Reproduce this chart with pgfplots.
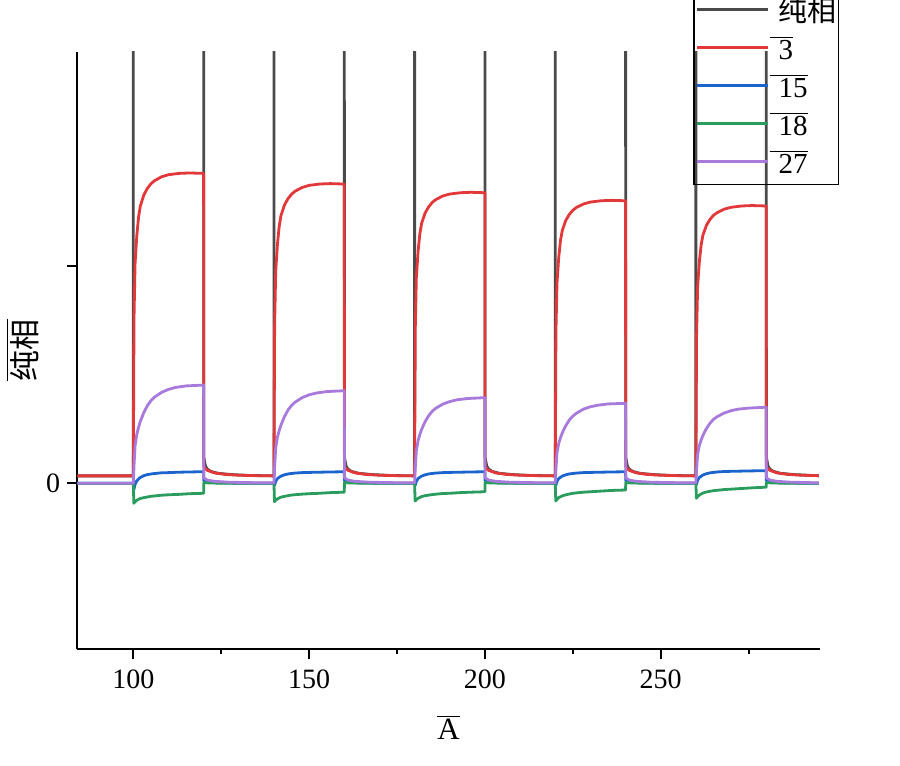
\documentclass[border=0pt]{standalone}
\usepackage{fontspec}
\setmainfont{Liberation Serif}
\newfontfamily\cjk{Noto Sans CJK SC}
\usepackage{pgfplots}
\pgfplotsset{compat=1.18}
\definecolor{cblack}{RGB}{74,74,74}
\definecolor{cred}{RGB}{226,56,58}
\definecolor{cblue}{RGB}{28,100,205}
\definecolor{cgreen}{RGB}{42,156,94}
\definecolor{cpurple}{RGB}{168,122,220}
\begin{document}
\begin{tikzpicture}
\begin{axis}[
  width=371.35pt, height=298.8pt, scale only axis,
  xmin=84.07, xmax=295.3, ymin=-0.764, ymax=1.986,
  axis x line*=bottom, axis y line*=left,
  axis line style={line width=1pt, -},
  xtick={100,150,200,250}, minor xtick={125,175,225,275},
  ytick={0,1}, yticklabels={0,{}},
  tick align=outside, major tick length=5pt, minor tick length=2.5pt,
  tick style={line width=1pt, black},
  /pgf/number format/assume math mode=true,
  ticklabel style={font=\fontsize{14}{16}\selectfont},
  xticklabel style={yshift=-2pt},
  xlabel={$\overline{\mbox{A}}$},
  ylabel={$\overline{\mbox{\cjk 纯相}}$},
  label style={font=\fontsize{15.5}{18}\selectfont},
  xlabel style={at={(axis description cs:0.5,-0.1305)}, anchor=center},
  ylabel style={at={(axis description cs:-0.0740,0.5)}, anchor=center, rotate=0},
  legend style={at={(0.8294,0.777)}, anchor=south west, draw=black, line width=0.6pt,
    fill=none, font=\fontsize{14.5}{17}\selectfont, inner xsep=1pt, inner ysep=2pt,
    column sep=0pt, row sep=0pt,
    nodes={inner sep=0pt, text height=15.5pt, text depth=3.45pt, anchor=west}},
  legend cell align=left,
  legend image code/.code={\draw[#1, line width=1.4pt] (0pt,0pt) -- (35.5pt,0pt);},
  every axis plot/.append style={line width=1.4pt, line join=round},
  clip=true,
]
\coordinate (O) at (rel axis cs:0,0);
\addplot[cblack] coordinates {
(84,0.034) (100,0.034) (100.01,3) (120,3) (120.05,0.12) (120.5,0.08) (121,0.066) (122,0.055) (124,0.046) (128,0.040) (133,0.036) (140,0.034)
(140.01,3) (160,3) (160.05,0.12) (160.5,0.08) (161,0.066) (162,0.055) (164,0.046) (168,0.040) (173,0.036) (180,0.034)
(180.01,3) (200,3) (200.05,0.12) (200.5,0.08) (201,0.066) (202,0.055) (204,0.046) (208,0.040) (213,0.036) (220,0.034)
(220.01,3) (240,3) (240.05,0.12) (240.5,0.08) (241,0.066) (242,0.055) (244,0.046) (248,0.040) (253,0.036) (260,0.034)
(260.01,3) (280,3) (280.05,0.12) (280.5,0.08) (281,0.066) (282,0.055) (284,0.046) (288,0.040) (293,0.036) (295,0.035)
};
\addlegendentry{\kern4.5pt{\cjk 纯相}}
\addplot[cred] coordinates {
(84,0.034) (100,0.034)
(100.2,0.760) (100.5,1.010) (101,1.140) (101.5,1.226) (102,1.276) (103,1.327) (104,1.357) (105,1.378) (106,1.392) (108,1.410) (110,1.420) (113,1.426) (116,1.428) (120,1.426)
(120.05,0.075) (121,0.060) (123,0.048) (126,0.041) (130,0.037) (135,0.035) (140,0.034)
(140.2,0.735) (140.5,0.975) (141,1.101) (141.5,1.183) (142,1.232) (143,1.281) (144,1.310) (145,1.330) (146,1.344) (148,1.361) (150,1.371) (153,1.377) (156,1.379) (160,1.377)
(160.05,0.075) (161,0.060) (163,0.048) (166,0.041) (170,0.037) (175,0.035) (180,0.034)
(180.2,0.714) (180.5,0.947) (181,1.069) (181.5,1.149) (182,1.196) (183,1.244) (184,1.272) (185,1.292) (186,1.305) (188,1.322) (190,1.331) (193,1.337) (196,1.339) (200,1.337)
(200.05,0.075) (201,0.060) (203,0.048) (206,0.041) (210,0.037) (215,0.035) (220,0.034)
(220.2,0.695) (220.5,0.922) (221,1.040) (221.5,1.118) (222,1.163) (223,1.210) (224,1.237) (225,1.256) (226,1.269) (228,1.285) (230,1.294) (233,1.300) (236,1.302) (240,1.300)
(240.05,0.075) (241,0.060) (243,0.048) (246,0.041) (250,0.037) (255,0.035) (260,0.034)
(260.2,0.682) (260.5,0.905) (261,1.021) (261.5,1.097) (262,1.142) (263,1.187) (264,1.214) (265,1.233) (266,1.245) (268,1.261) (270,1.270) (273,1.276) (276,1.278) (280,1.276)
(280.05,0.075) (281,0.060) (283,0.048) (286,0.041) (290,0.037) (295,0.035)
};
\addlegendentry{$\overline{\mbox{\kern4.5pt 3}}$}
\addplot[cblue] coordinates {
(84,0) (100,0) (100.15,-0.030) (100.5,-0.005) (101,0.012) (102,0.027) (103,0.035) (104,0.040) (106,0.045) (108,0.048) (110,0.049) (113,0.051) (116,0.052) (120,0.0534)
(120.05,0.012) (121,0.006) (123,0.003) (127,0.001) (133,0) (140,0)
(140.15,-0.010) (140.5,0.009) (141,0.022) (142,0.033) (143,0.039) (144,0.043) (146,0.047) (148,0.049) (150,0.050) (153,0.051) (156,0.052) (160,0.053)
(160.05,0.012) (161,0.006) (163,0.003) (167,0.001) (173,0) (180,0)
(180.15,-0.010) (180.5,0.009) (181,0.022) (182,0.033) (183,0.039) (184,0.043) (186,0.047) (188,0.049) (190,0.050) (193,0.051) (196,0.052) (200,0.053)
(200.05,0.012) (201,0.006) (203,0.003) (207,0.001) (213,0) (220,0)
(220.15,-0.010) (220.5,0.009) (221,0.022) (222,0.033) (223,0.039) (224,0.043) (226,0.047) (228,0.049) (230,0.050) (233,0.051) (236,0.052) (240,0.053)
(240.05,0.012) (241,0.006) (243,0.003) (247,0.001) (253,0) (260,0)
(260.15,-0.005) (260.5,0.014) (261,0.027) (262,0.038) (263,0.044) (264,0.048) (266,0.052) (268,0.054) (270,0.055) (273,0.056) (276,0.057) (280,0.058)
(280.05,0.012) (281,0.006) (283,0.003) (287,0.001) (295,0)
};
\addlegendentry{$\overline{\mbox{\kern4.5pt 15}}$}
\addplot[cgreen] coordinates {
(84,0) (100,0) (100.15,-0.092) (100.5,-0.085) (101,-0.078) (102,-0.070) (103,-0.066) (105,-0.060) (108,-0.055) (110,-0.053) (113,-0.051) (116,-0.048) (120,-0.046)
(120.05,0.003) (122,0.001) (130,0) (140,0)
(140.15,-0.085) (140.5,-0.078) (141,-0.072) (142,-0.064) (143,-0.060) (145,-0.054) (148,-0.050) (150,-0.048) (153,-0.046) (156,-0.043) (160,-0.041)
(160.05,0.003) (162,0.001) (170,0) (180,0)
(180.15,-0.0815) (180.5,-0.075) (181,-0.069) (182,-0.061) (183,-0.057) (185,-0.052) (188,-0.047) (190,-0.046) (193,-0.043) (196,-0.041) (200,-0.039)
(200.05,0.003) (202,0.001) (210,0) (220,0)
(220.15,-0.0815) (220.5,-0.074) (221,-0.066) (222,-0.058) (223,-0.053) (225,-0.046) (228,-0.041) (230,-0.039) (233,-0.036) (236,-0.033) (240,-0.031)
(240.05,0.003) (242,0.001) (250,0) (260,0)
(260.15,-0.069) (260.5,-0.061) (261,-0.054) (262,-0.045) (263,-0.040) (265,-0.034) (268,-0.029) (270,-0.027) (273,-0.024) (276,-0.021) (280,-0.018)
(280.05,0.003) (282,0.001) (290,0) (295,0)
};
\addlegendentry{$\overline{\mbox{\kern4.5pt 18}}$}
\addplot[cpurple] coordinates {
(84,0) (100,0) (100.2,0.081) (100.5,0.172) (101,0.226) (101.5,0.258) (102,0.285) (103,0.326) (104,0.357) (105,0.380) (106,0.396) (108,0.418) (110,0.432) (112,0.441) (115,0.448) (120,0.452)
(120.05,0.025) (121,0.015) (123,0.009) (127,0.005) (133,0.003) (140,0.002)
(140.2,0.077) (140.5,0.162) (141,0.213) (141.5,0.243) (142,0.268) (143,0.307) (144,0.337) (145,0.358) (146,0.373) (148,0.394) (150,0.407) (152,0.415) (155,0.422) (160,0.426)
(160.05,0.025) (161,0.015) (163,0.009) (167,0.005) (173,0.003) (180,0.002)
(180.2,0.071) (180.5,0.150) (181,0.197) (181.5,0.225) (182,0.248) (183,0.284) (184,0.311) (185,0.331) (186,0.345) (188,0.364) (190,0.376) (192,0.384) (195,0.390) (200,0.394)
(200.05,0.025) (201,0.015) (203,0.009) (207,0.005) (213,0.003) (220,0.002)
(220.2,0.066) (220.5,0.140) (221,0.184) (221.5,0.210) (222,0.232) (223,0.265) (224,0.291) (225,0.309) (226,0.322) (228,0.341) (230,0.352) (232,0.359) (235,0.365) (240,0.368)
(240.05,0.025) (241,0.015) (243,0.009) (247,0.005) (253,0.003) (260,0.002)
(260.2,0.063) (260.5,0.133) (261,0.175) (261.5,0.199) (262,0.220) (263,0.252) (264,0.276) (265,0.294) (266,0.306) (268,0.323) (270,0.334) (272,0.341) (275,0.346) (280,0.350)
(280.05,0.025) (281,0.015) (283,0.009) (287,0.005) (295,0.002)
};
\addlegendentry{$\overline{\mbox{\kern4.5pt 27}}$}
\end{axis}
\pgfresetboundingbox
\path[use as bounding box] ([shift={(-38.65pt,-58.35pt)}]O) rectangle ([shift={(411.35pt,324.65pt)}]O);
\end{tikzpicture}
\end{document}
